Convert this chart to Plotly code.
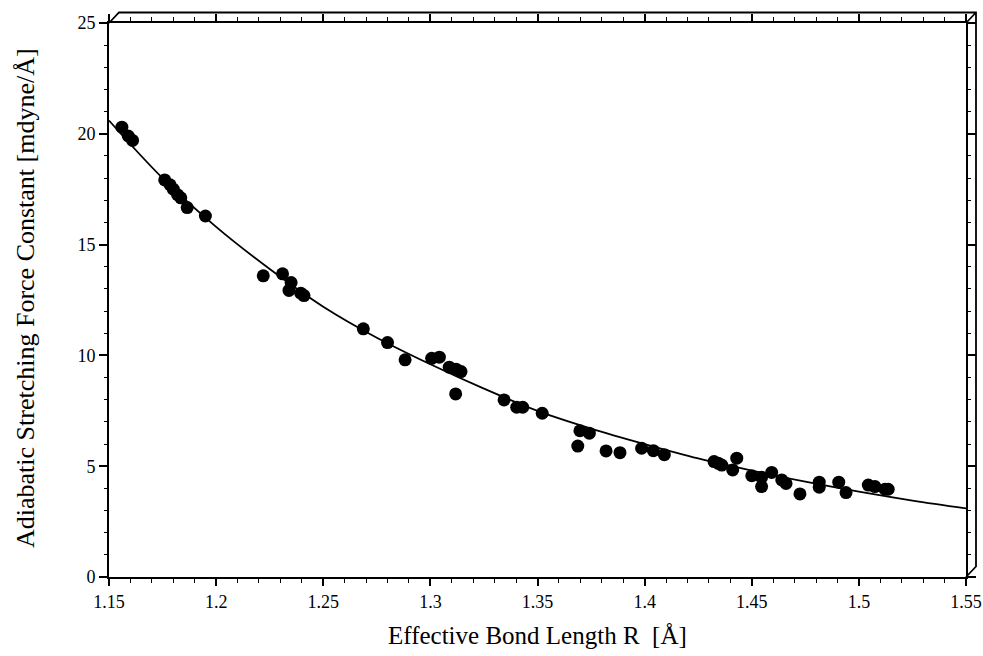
import plotly.graph_objects as go

# Measured data points (bond length R [Å], force constant k [mdyne/Å])
bond_length = [1.156, 1.159, 1.161, 1.176, 1.1785, 1.180, 1.182, 1.1835, 1.1865, 1.195,
               1.222, 1.231, 1.235, 1.234, 1.2395, 1.241,
               1.2687, 1.280, 1.2882, 1.3006, 1.3042, 1.3088, 1.312, 1.3143, 1.3118,
               1.3344, 1.3403, 1.3431, 1.3522, 1.3698, 1.3742, 1.3688,
               1.382, 1.3885, 1.3986, 1.4041, 1.4092,
               1.4324, 1.4344, 1.4360, 1.4430, 1.4411, 1.4500, 1.4546, 1.4546, 1.4593,
               1.4640, 1.4660, 1.4725, 1.4815, 1.4815, 1.4906, 1.4940,
               1.5044, 1.5075, 1.5122, 1.5137]
force_const = [20.3, 19.9, 19.7, 17.92, 17.70, 17.50, 17.25, 17.11, 16.67, 16.29,
               13.59, 13.68, 13.29, 12.93, 12.81, 12.70,
               11.20, 10.58, 9.80, 9.87, 9.92, 9.47, 9.38, 9.27, 8.26,
               7.99, 7.66, 7.66, 7.39, 6.60, 6.49, 5.91,
               5.69, 5.61, 5.81, 5.70, 5.52,
               5.21, 5.13, 5.05, 5.36, 4.83, 4.57, 4.08, 4.50, 4.72,
               4.38, 4.22, 3.75, 4.28, 4.05, 4.28, 3.81,
               4.15, 4.08, 3.96, 3.96]

# Fitted curve
curve_r = [1.15, 1.175, 1.20, 1.225, 1.25, 1.275, 1.30, 1.325, 1.35, 1.375, 1.40,
           1.425, 1.45, 1.475, 1.50, 1.525, 1.55]
curve_k = [20.6, 18.0, 15.8, 13.9, 12.2, 10.8, 9.6, 8.5, 7.5, 6.7, 6.0,
           5.35, 4.8, 4.3, 3.85, 3.45, 3.1]

x_ticks = [1.15, 1.2, 1.25, 1.3, 1.35, 1.4, 1.45, 1.5, 1.55]
y_ticks = [0, 5, 10, 15, 20, 25]

x_title = "Effective Bond Length R  [Å]"
y_title = "Adiabatic Stretching Force Constant [mdyne/Å]"

W, H = 983, 656
ML, MT = 109, 23
MR = W - 966
MB = H - 577
pw, ph = W - ML - MR, H - MT - MB
dx, dy = 10 / pw, 10.5 / ph

fig = go.Figure()
fig.add_trace(go.Scatter(x=curve_r, y=curve_k, mode="lines",
                         line=dict(color="black", width=1.8, shape="spline"),
                         hoverinfo="skip", showlegend=False))
fig.add_trace(go.Scatter(x=bond_length, y=force_const, mode="markers",
                         marker=dict(color="black", size=13), showlegend=False))

font = "Liberation Serif, Times New Roman, serif"
fig.update_layout(
    width=W, height=H,
    margin=dict(l=ML, r=MR, t=MT, b=MB, autoexpand=False),
    paper_bgcolor="white", plot_bgcolor="white",
    font=dict(family=font, color="black", size=18),
    showlegend=False,
)
fig.update_xaxes(
    range=[1.15, 1.55], tickvals=x_ticks, ticktext=[f"{v:g}" for v in x_ticks],
    automargin=False, ticklabeloverflow="allow",
    showgrid=False, zeroline=False, showline=True, linecolor="black", linewidth=2,
    mirror="ticks", ticks="outside", ticklen=7, tickwidth=1.5, tickcolor="black",
    minor=dict(dtick=0.01, ticks="outside", ticklen=4, tickwidth=1.2, tickcolor="black", showgrid=False),
    tickfont=dict(size=18, family=font),
)
fig.update_yaxes(
    range=[0, 25], tickvals=y_ticks,
    automargin=False,
    showgrid=False, zeroline=False, showline=True, linecolor="black", linewidth=2,
    mirror="ticks", ticks="outside", ticklen=8, tickwidth=1.5, tickcolor="black",
    minor=dict(dtick=1, ticks="outside", ticklen=3, tickwidth=1.2, tickcolor="black", showgrid=False),
    tickfont=dict(size=18, family=font),
)

# axis titles
fig.add_annotation(text=x_title, xref="paper", yref="paper", x=0.5, y=(577 - 635) / ph,
                   xanchor="center", yanchor="middle", showarrow=False,
                   font=dict(size=25, family=font, color="black"))
fig.add_annotation(text=y_title, xref="paper", yref="paper", x=(25 - 109) / pw, y=(577 - 298) / ph,
                   xanchor="center", yanchor="middle", showarrow=False, textangle=-90,
                   font=dict(size=26, family=font, color="black"))

# 3D box frame decoration
path = (f"M 0,1 L {dx},{1+dy} L {1+dx},{1+dy} L {1+dx},{dy} L 1,0 "
        f"M 1,1 L {1+dx},{1+dy}")
fig.add_shape(type="path", xref="paper", yref="paper", path=path,
              line=dict(color="black", width=1.8))

fig.write_html("out.html", config={"displayModeBar": False},
               post_script="document.body.style.margin='0px';document.body.style.overflow='hidden';")
